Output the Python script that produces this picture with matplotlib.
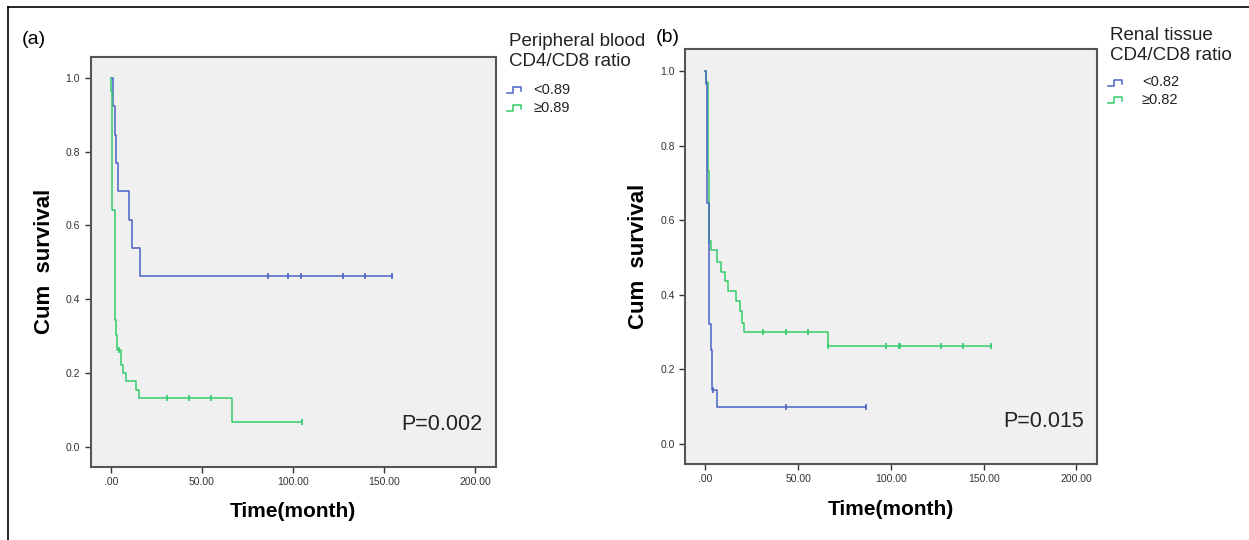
import matplotlib
matplotlib.use("Agg")
import matplotlib.pyplot as plt
from matplotlib.lines import Line2D

plt.rcParams['font.family'] = ['Liberation Sans', 'DejaVu Sans']

BLUE = '#4a64c4'
GREEN = '#33cc6a'

# (a) peripheral blood CD4/CD8 ratio
a_low_t = [0, 1.0, 2.2, 3.1, 4.0, 10.1, 11.9, 15.9]
a_low_s = [1.0, 0.923, 0.846, 0.769, 0.692, 0.615, 0.538, 0.462]
a_low_cens_t = [86.3, 97.4, 104.3, 127.5, 139.5, 154.5]
a_low_cens_s = [0.462] * 6

a_high_t = [0, 0.4, 0.9, 2.2, 2.7, 3.6, 5.8, 6.7, 8.6, 14.1, 15.4, 66.3]
a_high_s = [1.0, 0.963, 0.642, 0.344, 0.303, 0.263, 0.222, 0.200, 0.177, 0.154, 0.132, 0.066]
a_high_cens_t = [4.4, 31.1, 43.0, 55.1, 105.1]
a_high_cens_s = [0.263, 0.132, 0.132, 0.132, 0.066]

# (b) renal tissue CD4/CD8 ratio
b_low_t = [0, 0.4, 0.7, 1.9, 3.0, 3.7, 6.1]
b_low_s = [1.0, 0.965, 0.645, 0.322, 0.250, 0.143, 0.097]
b_low_cens_t = [4.3, 43.3, 86.4]
b_low_cens_s = [0.143, 0.097, 0.097]

b_high_t = [0, 0.3, 1.2, 2.0, 3.2, 6.1, 8.3, 10.7, 12.4, 16.2, 18.4, 19.7, 21.0, 65.9]
b_high_s = [1.0, 0.972, 0.731, 0.543, 0.519, 0.489, 0.462, 0.436, 0.409, 0.382, 0.355, 0.324, 0.299, 0.263]
b_high_cens_t = [2.0, 31.2, 43.3, 55.1, 65.9, 97.3, 104.3, 104.9, 126.9, 139.0, 154.1]
b_high_cens_s = [0.543, 0.299, 0.299, 0.299, 0.263, 0.263, 0.263, 0.263, 0.263, 0.263, 0.263]

xticks = [0, 50, 100, 150, 200]
xticklabels = ['.00', '50.00', '100.00', '150.00', '200.00']
yticks = [0.0, 0.2, 0.4, 0.6, 0.8, 1.0]
yticklabels = ['0.0', '0.2', '0.4', '0.6', '0.8', '1.0']


def km_curve(ax, t, s, ct, cs, color):
    end = max(ct + t)
    ax.step(t + [end], s + [s[-1]], where='post', color=color, lw=1.1)
    ax.plot(ct, cs, ls='none', marker='|', ms=4.5, mew=1.2, color=color)


def setup_axes(ax, xlim, ylim, ptext):
    ax.set_facecolor('#f0f0f0')
    ax.set_xlim(*xlim)
    ax.set_ylim(*ylim)
    ax.set_xticks(xticks)
    ax.set_xticklabels(xticklabels)
    ax.set_yticks(yticks)
    ax.set_yticklabels(yticklabels)
    ax.tick_params(labelsize=7.5, colors='#333333', length=4, width=1, direction='out')
    for sp in ax.spines.values():
        sp.set_color('#555555')
        sp.set_linewidth(1.5)
    ax.set_xlabel('Time(month)', fontsize=15, fontweight='bold', labelpad=11)
    ax.set_ylabel('Cum  survival', fontsize=16, fontweight='bold', labelpad=8)
    ax.text(204, 0.06, ptext, fontsize=15.5, ha='right', va='center', color='#222222')


fig = plt.figure(figsize=(12.49, 5.40), dpi=100)
fig.patch.set_facecolor('white')

ax1 = fig.add_axes([0.0725, 0.1358, 0.3246, 0.7586])
km_curve(ax1, a_low_t, a_low_s, a_low_cens_t, a_low_cens_s, BLUE)
km_curve(ax1, a_high_t, a_high_s, a_high_cens_t, a_high_cens_s, GREEN)
setup_axes(ax1, (-11.1, 211.5), (-0.054, 1.056), 'P=0.002')

ax2 = fig.add_axes([0.5488, 0.1407, 0.3295, 0.7686])
km_curve(ax2, b_high_t, b_high_s, b_high_cens_t, b_high_cens_s, GREEN)
km_curve(ax2, b_low_t, b_low_s, b_low_cens_t, b_low_cens_s, BLUE)
setup_axes(ax2, (-10.8, 211.1), (-0.055, 1.06), 'P=0.015')

W, H = 1249.0, 540.0


def fx(x):
    return x / W


def fy(y):
    return 1 - y / H


fig.text(fx(22), fy(39), '(a)', fontsize=14, va='center', ha='left')
fig.text(fx(656), fy(38), '(b)', fontsize=14, va='center', ha='left')

# legends
fig.text(fx(509), fy(41), 'Peripheral blood', fontsize=13.5, va='center', color='#222222')
fig.text(fx(509), fy(62), 'CD4/CD8 ratio', fontsize=13.5, va='center', color='#222222')
fig.text(fx(533), fy(90), '<0.89', fontsize=10.5, va='center', color='#222222')
fig.text(fx(533), fy(108), '\u22650.89', fontsize=10.5, va='center', color='#222222')

fig.text(fx(1110), fy(35), 'Renal tissue', fontsize=13.5, va='center', color='#222222')
fig.text(fx(1110), fy(56), 'CD4/CD8 ratio', fontsize=13.5, va='center', color='#222222')
fig.text(fx(1142), fy(82), '<0.82', fontsize=10.5, va='center', color='#222222')
fig.text(fx(1142), fy(100), '\u22650.82', fontsize=10.5, va='center', color='#222222')


def legend_icon(x0, yc, color):
    xs = [x0, x0 + 6, x0 + 6, x0 + 14, x0 + 14]
    ys = [yc + 3, yc + 3, yc - 3, yc - 3, yc + 1]
    fig.add_artist(Line2D([fx(v) for v in xs], [fy(v) for v in ys],
                          transform=fig.transFigure, color=color, lw=1.1))


legend_icon(507, 90, BLUE)
legend_icon(507, 108, GREEN)
legend_icon(1108, 83, BLUE)
legend_icon(1108, 100, GREEN)

# outer frame lines (top and left)
fig.add_artist(Line2D([fx(7.5), 1], [fy(7), fy(7)], transform=fig.transFigure, color='black', lw=1.2))
fig.add_artist(Line2D([fx(7.5), fx(7.5)], [fy(7), 0], transform=fig.transFigure, color='black', lw=1.2))

fig.savefig('out.png', dpi=100)
